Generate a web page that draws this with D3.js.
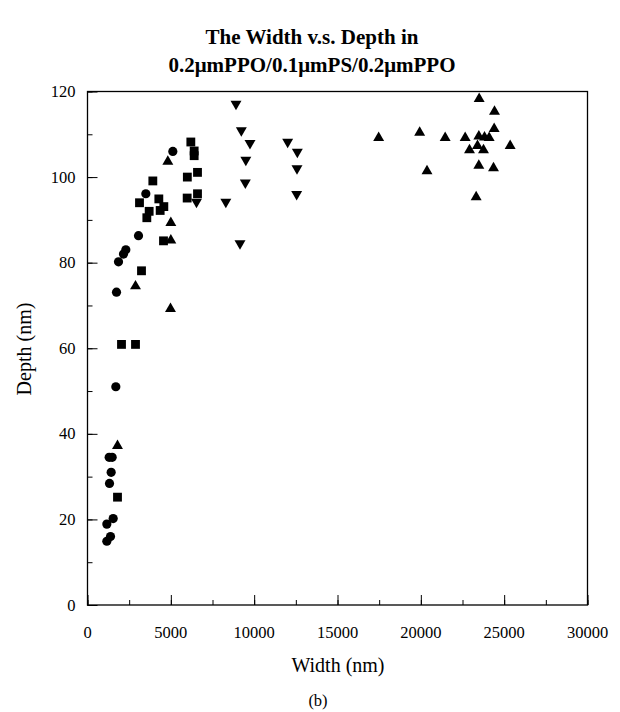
<!DOCTYPE html>
<html><head><meta charset="utf-8">
<script src="https://cdn.jsdelivr.net/npm/d3@7"></script>
<style>body{margin:0;background:#fff}svg{display:block}text{font-family:"Liberation Serif","Times New Roman",serif;fill:#000}</style>
</head><body><div id="c"></div>
<script>
const titleLines = ["The Width v.s. Depth in", "0.2\u03bcmPPO/0.1\u03bcmPS/0.2\u03bcmPPO"];
const xLabel = "Width (nm)", yLabel = "Depth (nm)", caption = "(b)";
const xTicks = [0,5000,10000,15000,20000,25000,30000];
const yTicks = [0,20,40,60,80,100,120];
// series: [width, depth]
const circles = [[5120,106.0],[3500,96.1],[3060,86.3],[2300,83.0],[2160,82.0],[1860,80.2],[1740,73.1],[1700,51.0],
  [1300,34.5],[1480,34.5],[1420,31.0],[1320,28.4],[1540,20.2],[1160,18.9],[1380,16.0],[1160,14.9]];
const squares = [[6200,108.2],[6400,106.1],[6400,105.0],[3920,99.1],[5990,100.0],[6600,101.1],[3120,94.0],[4280,94.9],
  [4580,93.1],[4360,92.2],[3700,92.0],[3560,90.5],[5980,95.1],[6600,96.1],[4560,85.1],[3240,78.1],[2040,60.9],[2880,60.9],[1800,25.2]];
const triUp = [[4820,103.6],[5000,89.3],[5000,85.2],[2880,74.5],[4980,69.2],[1800,37.2],
  [17470,109.2],[19930,110.4],[20370,101.4],[21460,109.2],[22660,109.2],[22920,106.3],[23320,95.3],[23400,107.3],
  [23480,109.5],[23480,102.7],[23500,118.3],[23760,106.3],[23820,109.3],[24100,109.2],[24360,102.1],[24400,111.3],[24420,115.3],[25360,107.3]];
const triDown = [[6540,94.2],[8300,94.2],[8910,117.1],[9230,110.9],[9750,107.9],[9500,104.0],[9470,98.7],[9150,84.5],
  [12010,108.2],[12590,105.9],[12570,102.0],[12550,96.0]];

const W=620,H=712, L=87.5, R=587.5, T=91.5, B=605;
const svg=d3.select("#c").append("svg").attr("width",W).attr("height",H);
const x=d3.scaleLinear().domain([0,30000]).range([L,R]);
const y=d3.scaleLinear().domain([0,120]).range([B,T]);

// frame
svg.append("rect").attr("x",L).attr("y",T).attr("width",R-L).attr("height",B-T)
  .attr("fill","none").attr("stroke","#000").attr("stroke-width",1.3);

// x axis
const xMinor = d3.range(0,30001,2500);
const gx=svg.append("g").attr("transform",`translate(0,${B})`);
gx.call(d3.axisTop(x).tickValues(xMinor).tickSize(5).tickFormat(""));
gx.call(g=>g.select(".domain").remove());
const gx2=svg.append("g").attr("transform",`translate(0,${B})`);
gx2.call(d3.axisTop(x).tickValues(xTicks).tickSize(10).tickFormat(""));
gx2.call(g=>g.select(".domain").remove());
svg.append("g").selectAll("text").data(xTicks).join("text")
  .attr("x",d=>x(d)).attr("y",B+33).attr("text-anchor","middle").attr("font-size",16.5).text(d=>d);

// y axis
const yMinor = d3.range(0,121,10);
const gy=svg.append("g").attr("transform",`translate(${L},0)`);
gy.call(d3.axisRight(y).tickValues(yMinor).tickSize(5).tickFormat(""));
gy.call(g=>g.select(".domain").remove());
const gy2=svg.append("g").attr("transform",`translate(${L},0)`);
gy2.call(d3.axisRight(y).tickValues(yTicks).tickSize(10).tickFormat(""));
gy2.call(g=>g.select(".domain").remove());
svg.selectAll(".tick line").attr("stroke","#000").attr("stroke-width",1);
svg.append("g").selectAll("text").data(yTicks).join("text")
  .attr("x",L-12).attr("y",d=>y(d)+5.5).attr("text-anchor","end").attr("font-size",16.5).text(d=>d);

// titles
svg.append("g").selectAll("text").data(titleLines).join("text")
  .attr("x",312).attr("y",(d,i)=>44+i*28).attr("text-anchor","middle")
  .attr("font-size",21).attr("font-weight","bold").text(d=>d);
svg.append("text").attr("x",338).attr("y",672).attr("text-anchor","middle").attr("font-size",20).text(xLabel);
svg.append("text").attr("transform","translate(31,349) rotate(-90)").attr("text-anchor","middle").attr("font-size",20).text(yLabel);
svg.append("text").attr("x",318).attr("y",706).attr("text-anchor","middle").attr("font-size",16.5).text(caption);

// markers
const g=svg.append("g");
g.selectAll(".c").data(circles).join("circle").attr("cx",d=>x(d[0])).attr("cy",d=>y(d[1])).attr("r",4.6).attr("fill","#000");
const sq=d3.symbol().type(d3.symbolSquare).size(78);
g.selectAll(".s").data(squares).join("path").attr("d",sq).attr("transform",d=>`translate(${x(d[0])},${y(d[1])})`).attr("fill","#000");
const tri=d3.symbol().type(d3.symbolTriangle).size(52);
g.selectAll(".tu").data(triUp).join("path").attr("d",tri).attr("transform",d=>`translate(${x(d[0])},${y(d[1])})`).attr("fill","#000");
g.selectAll(".td").data(triDown).join("path").attr("d",tri).attr("transform",d=>`translate(${x(d[0])},${y(d[1])}) rotate(180)`).attr("fill","#000");
</script></body></html>
